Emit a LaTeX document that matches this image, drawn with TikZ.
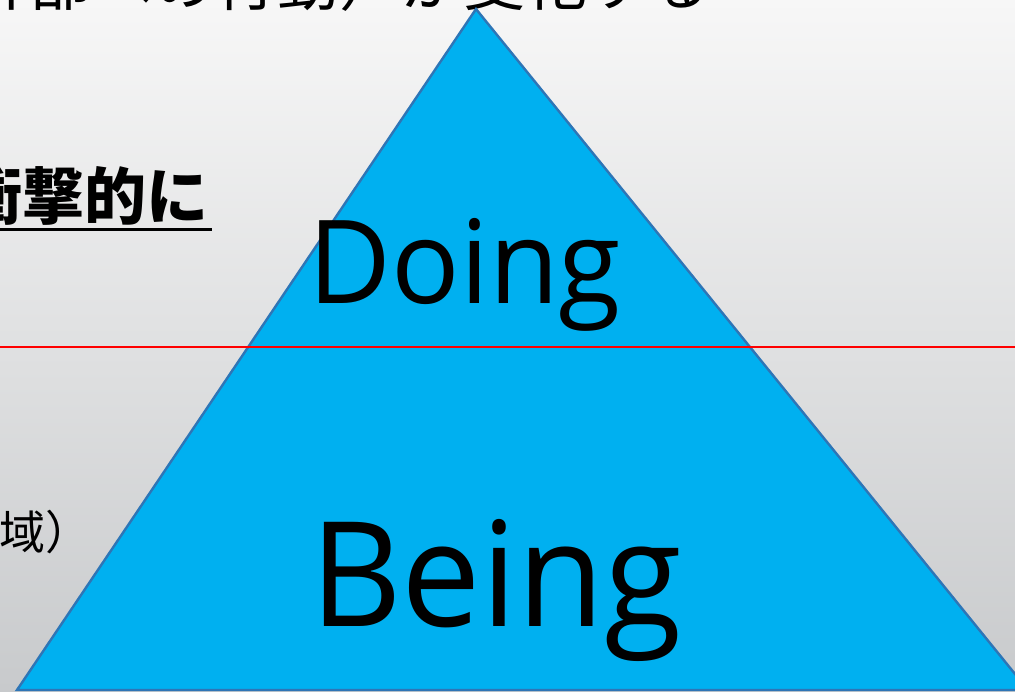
\documentclass[tikz,border=0pt]{standalone}
\usepackage{fontspec}
\setmainfont{Open Sans}
\newfontfamily\jp{Noto Sans CJK JP}
\definecolor{bgtop}{RGB}{247,247,247}
\definecolor{bgbot}{RGB}{200,202,204}
\definecolor{trifill}{RGB}{0,176,240}
\definecolor{triedge}{RGB}{46,117,182}
\definecolor{redline}{RGB}{255,0,0}
\tikzset{
  bigword/.style={anchor=base, inner sep=0pt, text=black},
  jptext/.style={anchor=base west, inner sep=0pt, text=black, font=\jp},
}
\begin{document}
\begin{tikzpicture}[x=1pt,y=-1pt]
\useasboundingbox (0,0) rectangle (1015,691);
\clip (0,0) rectangle (1015,691);
\shade[top color=bgtop, bottom color=bgbot] (0,0) rectangle (1015,691);
% top text (cut off)
\node[jptext, font=\jp\fontsize{62}{62}\selectfont] (toptext) at (-95,5) {（外部への行動）が変化する};
% left texts
\node[anchor=base east, inner sep=0pt, font=\jp\bfseries\fontsize{62}{62}\selectfont] (shock) at (209,219) {衝撃的に};
\draw[line width=3pt] (0,229) -- (212,229);
\node[jptext, font=\jp\fontsize{46}{46}\selectfont] (ryoiki) at (-1,549) {域）};
% triangle
\coordinate (apex) at (476,9);
\coordinate (bl) at (17,690);
\coordinate (br) at (1028,690);
\draw[fill=trifill, draw=triedge, line width=2.4pt, line join=miter] (apex) -- (bl) -- (br) -- cycle;
% words
\node[bigword, font=\fontsize{116}{116}\selectfont, xscale=0.98] (doing) at (465,303) {Doing};
\node[bigword, font=\fontsize{146}{146}\selectfont, xscale=0.97] (being) at (496,626) {Being};
% red line
\coordinate (rl) at (0,347);
\coordinate (rr) at (1015,347);
\draw[redline, line width=2pt] (rl) -- (rr);
\end{tikzpicture}
\end{document}
